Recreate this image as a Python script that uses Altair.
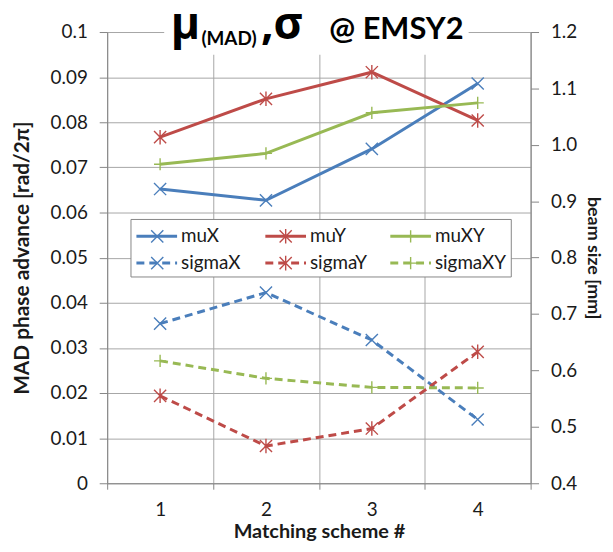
import altair as alt
import pandas as pd

# ---- data ----
schemes = [1, 2, 3, 4]
mu_x = [0.0652, 0.0627, 0.0741, 0.0886]
mu_y = [0.0767, 0.0852, 0.0911, 0.0804]
mu_xy = [0.0707, 0.0731, 0.0821, 0.0843]
sigma_x = [0.683, 0.738, 0.654, 0.513]
sigma_y = [0.555, 0.466, 0.497, 0.633]
sigma_xy = [0.617, 0.586, 0.570, 0.569]

mu_names = ["muX", "muY", "muXY"]
sigma_names = ["sigmaX", "sigmaY", "sigmaXY"]
base_colors = ["#4A7EBB", "#BE4B48", "#98B954"]

left_ticks = [0, 0.01, 0.02, 0.03, 0.04, 0.05, 0.06, 0.07, 0.08, 0.09, 0.1]
right_ticks = [0.4, 0.5, 0.6, 0.7, 0.8, 0.9, 1.0, 1.1, 1.2]

X_PATH = "M-1,-1L1,1M-1,1L1,-1"
AST_PATH = "M-1,-1L1,1M-1,1L1,-1M0,-1.2L0,1.2"
PLUS_PATH = "M-1,0L1,0M0,-1L0,1"
shapes = [X_PATH, AST_PATH, PLUS_PATH]

FONT = "Lato"
GREEK = "Open Sans"
GRID = "#A6A6A6"
AXC = "#868686"
TXT = "#1a1a1a"

mu_df = pd.DataFrame({
    "scheme": schemes * 3,
    "value": mu_x + mu_y + mu_xy,
    "series": [n for n in mu_names for _ in schemes],
})
sigma_df = pd.DataFrame({
    "scheme": schemes * 3,
    "value": sigma_x + sigma_y + sigma_xy,
    "series": [n for n in sigma_names for _ in schemes],
})

all_names = mu_names + sigma_names
color_scale = alt.Scale(domain=all_names, range=base_colors * 2)
shape_scale = alt.Scale(domain=all_names, range=shapes * 2)

x_scale = alt.Scale(type="band", paddingInner=0, paddingOuter=0)
x_axis = alt.Axis(
    title="Matching scheme #", tickBand="extent", labelAngle=0, grid=True,
    gridColor=GRID, domainColor=AXC, tickColor=AXC, tickSize=6,
    labelPadding=12, labelFont=FONT, labelFontSize=19, labelColor=TXT,
    titleFont=FONT, titleFontSize=20, titleFontWeight="bold", titleColor=TXT,
    titlePadding=2,
)
x_enc = alt.X("scheme:O", scale=x_scale, axis=x_axis)

y_left = alt.Y(
    "value:Q", scale=alt.Scale(domain=[0, 0.1], nice=False),
    axis=alt.Axis(
        values=left_ticks, format=".2~f", title="MAD phase advance [rad/2π]",
        grid=True, gridColor=GRID, domainColor=AXC, tickColor=AXC, tickSize=8,
        labelPadding=12, labelFont=FONT, labelFontSize=19, labelColor=TXT,
        titleFont=FONT, titleFontSize=21, titleFontWeight="bold", titleColor=TXT,
        titlePadding=18,
    ),
)
y_right = alt.Y(
    "value:Q", scale=alt.Scale(domain=[0.4, 1.2], nice=False),
    axis=alt.Axis(
        orient="right", values=right_ticks, format=".1f", title="beam size [mm]",
        grid=False, domainColor=AXC, tickColor=AXC, tickSize=8,
        labelPadding=12, labelFont=FONT, labelFontSize=19, labelColor=TXT,
        titleFont=FONT, titleFontSize=18, titleFontWeight="bold", titleColor=TXT,
        titlePadding=7,
    ),
)

color = alt.Color("series:N", scale=color_scale, legend=None)
shape = alt.Shape("series:N", scale=shape_scale, legend=None)

mu_line = alt.Chart(mu_df).mark_line(strokeWidth=3).encode(
    x=x_enc, y=y_left, color=color)
mu_pts = alt.Chart(mu_df).mark_point(filled=False, size=150, strokeWidth=1.4, opacity=1).encode(
    x=x_enc, y=y_left, color=color, shape=shape)

sig_line = alt.Chart(sigma_df).mark_line(strokeWidth=3, strokeDash=[8, 5]).encode(
    x=x_enc, y=y_right, color=color)
sig_pts = alt.Chart(sigma_df).mark_point(filled=False, size=150, strokeWidth=1.4, opacity=1).encode(
    x=x_enc, y=y_right, color=color, shape=shape)

left = alt.layer(mu_line, mu_pts)
right = alt.layer(sig_line, sig_pts)

one = pd.DataFrame({"k": [0]})

# ---- legend (inside the plot) ----
legend_layers = [
    alt.Chart(one).mark_rect(fill="white", stroke=AXC, strokeWidth=1).encode(
        x=alt.value(24), x2=alt.value(407.5), y=alt.value(189), y2=alt.value(247))
]
col_x = [(29.5, 70.5, 50.5, 74.5), (159.5, 200.5, 180, 204.5), (285.5, 326.5, 306, 330.5)]
row_y = [206, 233]
for r, names in enumerate([mu_names, sigma_names]):
    for c, name in enumerate(names):
        x0, x1, xm, xt = col_x[c]
        yy = row_y[r]
        rule_kw = dict(color=base_colors[c], strokeWidth=3)
        if r == 1:
            rule_kw["strokeDash"] = [8, 5]
        legend_layers.append(alt.Chart(one).mark_rule(**rule_kw).encode(
            x=alt.value(x0), x2=alt.value(x1), y=alt.value(yy)))
        legend_layers.append(alt.Chart(one).mark_point(
            shape=shapes[c], filled=False, size=150, strokeWidth=1.4,
            color=base_colors[c], opacity=1).encode(x=alt.value(xm), y=alt.value(yy)))
        legend_layers.append(alt.Chart(one).mark_text(
            text=name, align="left", baseline="middle", font=FONT, fontSize=19,
            color=TXT).encode(x=alt.value(xt), y=alt.value(yy)))

# ---- title (drawn over the top of the plot) ----
title_layers = [
    alt.Chart(one).mark_rect(fill="white").encode(
        x=alt.value(57.5), x2=alt.value(364.5), y=alt.value(-30), y2=alt.value(23)),
    alt.Chart(one).mark_text(text="μ", align="left", baseline="alphabetic",
                             font=GREEK, fontSize=45, fontWeight="bold", color="black").encode(
        x=alt.value(64), y=alt.value(7)),
    alt.Chart(one).mark_text(text="(MAD)", align="left", baseline="alphabetic",
                             font=FONT, fontSize=19, fontWeight="bold", color="black").encode(
        x=alt.value(95), y=alt.value(13)),
    alt.Chart(one).mark_text(text=",σ", align="left", baseline="alphabetic",
                             font=GREEK, fontSize=45, fontWeight="bold", color="black").encode(
        x=alt.value(155), y=alt.value(7)),
    alt.Chart(one).mark_text(text="@ EMSY2", align="left", baseline="alphabetic",
                             font=FONT, fontSize=31, fontWeight="bold", color="black").encode(
        x=alt.value(224), y=alt.value(7)),
]

chart = alt.layer(left, right, *legend_layers, *title_layers).resolve_scale(
    y="independent"
).properties(
    width=427, height=455,
    autosize=alt.AutoSizeParams(type="none"),
    padding={"left": 100, "top": 22, "right": 75, "bottom": 57},
).configure_view(stroke=None).configure(background="white")

chart.save("out.html", embed_options={"renderer": "svg", "actions": False})
